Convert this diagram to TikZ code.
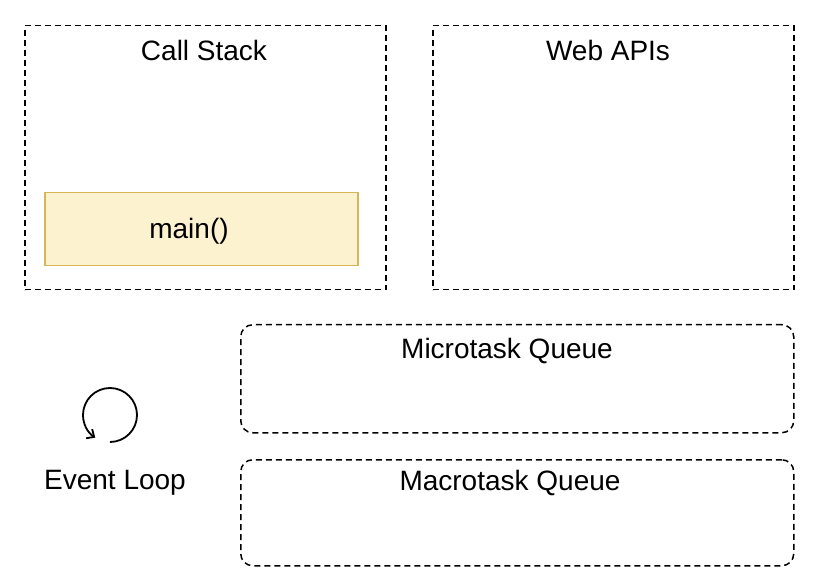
\documentclass[tikz,border=0pt]{standalone}
\usepackage{fontspec}
\setmainfont{Liberation Sans}
\usetikzlibrary{arrows.meta,calc}
\begin{document}
\begin{tikzpicture}[x=1pt,y=-1pt,
  box/.style={draw,dashed,line width=1.5pt,dash pattern=on 6pt off 4pt},
  lbl/.style={font=\fontsize{28}{30}\selectfont,anchor=center}]
\useasboundingbox (0,0) rectangle (820,580);
\node[box,minimum width=361pt,minimum height=264pt,anchor=north west] (cs) at (24,25) {};
\node[lbl] (cst) at (204,50) {Call Stack};
\node[box,minimum width=361pt,minimum height=264pt,anchor=north west] (wa) at (432,25) {};
\node[lbl] (wat) at (608,50) {Web APIs};
\definecolor{mfill}{HTML}{FDF2D0}\definecolor{mdraw}{HTML}{D6B656}
\node[draw=mdraw,fill=mfill,line width=1.5pt,minimum width=313pt,minimum height=73pt,anchor=north west] (main) at (44,192) {};
\node[lbl] at (189,231) {main()};
\node[box,rounded corners=12pt,minimum width=553pt,minimum height=108pt,anchor=north west] (mi) at (240,324) {};
\node[lbl] (mit) at (507,351) {Microtask Queue};
\node[box,rounded corners=12pt,minimum width=553pt,minimum height=106pt,anchor=north west] (ma) at (240,459) {};
\node[lbl] (mat) at (510,483) {Macrotask Queue};
\coordinate (lc) at (110,415);
\draw[line width=1.8pt,-{Straight Barb[length=6pt,width=11pt]}] ($(lc)+(0,27)$) arc[start angle=90,end angle=-237,radius=27];
\node[lbl] (el) at (115,483) {Event Loop};
\end{tikzpicture}
\end{document}
